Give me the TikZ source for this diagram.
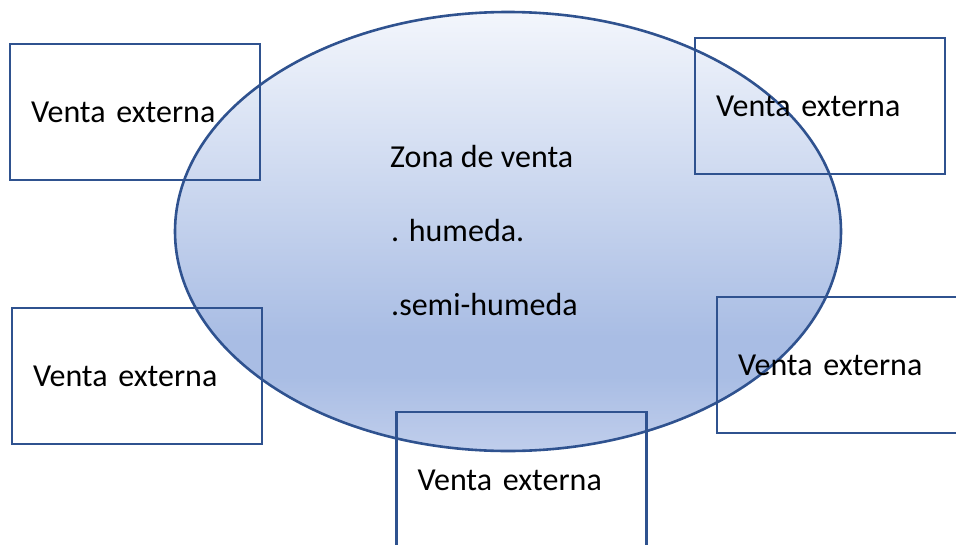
\documentclass[tikz,border=0pt]{standalone}
\usepackage{fontspec}
\setmainfont{Carlito}
\usetikzlibrary{shapes.geometric, positioning}
\definecolor{darkblue}{RGB}{47,82,143}
\definecolor{zonebot}{RGB}{192,206,236}
\definecolor{zonemid}{RGB}{169,189,228}
\definecolor{zonetop}{RGB}{243,246,252}
\pgfdeclareverticalshading{zoneshade}{100bp}{%
  color(0bp)=(zonebot); color(25bp)=(zonebot);
  color(33.5bp)=(zonemid); color(38bp)=(zonemid);
  color(75bp)=(zonetop); color(100bp)=(zonetop)}
\newcommand{\ventafont}{\fontsize{32}{38}\selectfont}
\tikzset{
  zone/.style={ellipse, draw=darkblue, line width=2.6pt,
    shading=zoneshade, minimum width=666pt,
    minimum height=439pt, inner sep=0pt},
  ventabox/.style={rectangle, draw=darkblue, line width=2.6pt,
    minimum width=250pt, minimum height=136pt,
    text width=208pt, inner xsep=21pt, align=left},
  zonetxt/.style={anchor=base west, inner sep=0pt},
}

\begin{document}
\begin{tikzpicture}[x=1pt, y=-1pt,
                    every node/.style={font=\ventafont}]
  \useasboundingbox (0,0) rectangle (956,544);
  \clip (0,0) rectangle (956,544);

  \node[zone] (zone) at (508,231.5) {};

  \node[zonetxt] (zona)   at (390,167) {Zona de venta};
  \node[zonetxt] (humeda) at (391,241) {. humeda.};
  \node[zonetxt] (semi)   at (391,315) {.semi-humeda};

  \node[ventabox] (ventaNW) at (135,112)   {Venta externa};
  \node[ventabox] (ventaNE) at (820,106)   {Venta externa};
  \node[ventabox] (ventaW)  at (137,376)   {Venta externa};
  \node[ventabox] (ventaE)  at (842,365)   {Venta externa};
  \node[ventabox] (ventaS)  at (521.5,480) {Venta externa};
\end{tikzpicture}
\end{document}
